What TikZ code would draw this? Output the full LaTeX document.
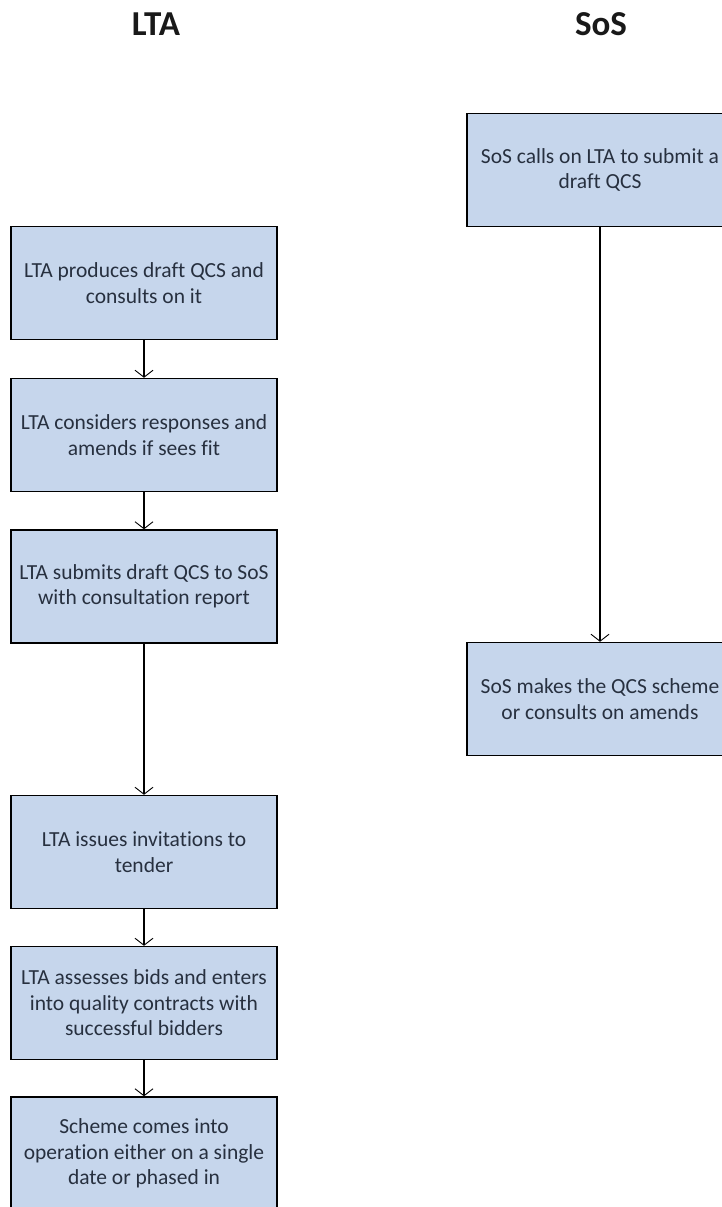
\documentclass[tikz,border=0pt]{standalone}
\usepackage{fontspec}
\setmainfont{Carlito}[Ligatures=NoCommon]
\usetikzlibrary{arrows.meta}
\definecolor{boxfill}{HTML}{C6D6EC}
\definecolor{boxtext}{HTML}{27303F}
\tikzset{
  stepbox/.style={draw=black, line width=1.4pt, fill=boxfill, text=boxtext,
    minimum width=266pt, minimum height=113pt, align=center, inner sep=0pt,
    font=\fontsize{21.5pt}{25.5pt}\selectfont},
  heading/.style={font=\fontsize{35pt}{38pt}\selectfont\bfseries, text=black!90},
  flow/.style={line width=1.2pt, -{Straight Barb[length=7pt,width=18pt,line width=0.9pt]}}
}
\begin{document}
\begin{tikzpicture}[x=1pt,y=-1pt]
\useasboundingbox (0,0) rectangle (722,1207);
\clip (0,0) rectangle (722,1207);
\node[heading] (hlta) at (156,24) {LTA};
\node[heading] (hsos) at (601,24) {SoS};
\node[stepbox] (l1) at (144,283) {LTA produces draft QCS and\\consults on it};
\node[stepbox] (l2) at (144,435) {LTA considers responses and\\amends if sees fit};
\node[stepbox] (l3) at (144,586.5) {LTA submits draft QCS to SoS\\with consultation report};
\node[stepbox] (l4) at (144,852) {LTA issues invitations to\\tender};
\node[stepbox] (l5) at (144,1003) {LTA assesses bids and enters\\into quality contracts with\\successful bidders};
\node[stepbox] (l6) at (144,1153.5) {Scheme comes into\\operation either on a single\\date or phased in};
\node[stepbox] (r1) at (600,170) {SoS calls on LTA to submit a\\draft QCS};
\node[stepbox] (r2) at (600,699) {SoS makes the QCS scheme\\or consults on amends};
\draw[flow] (l1) -- (l2);
\draw[flow] (l2) -- (l3);
\draw[flow] (l3) -- (l4);
\draw[flow] (l4) -- (l5);
\draw[flow] (l5) -- (l6);
\draw[flow] (r1) -- (r2);
\end{tikzpicture}
\end{document}
